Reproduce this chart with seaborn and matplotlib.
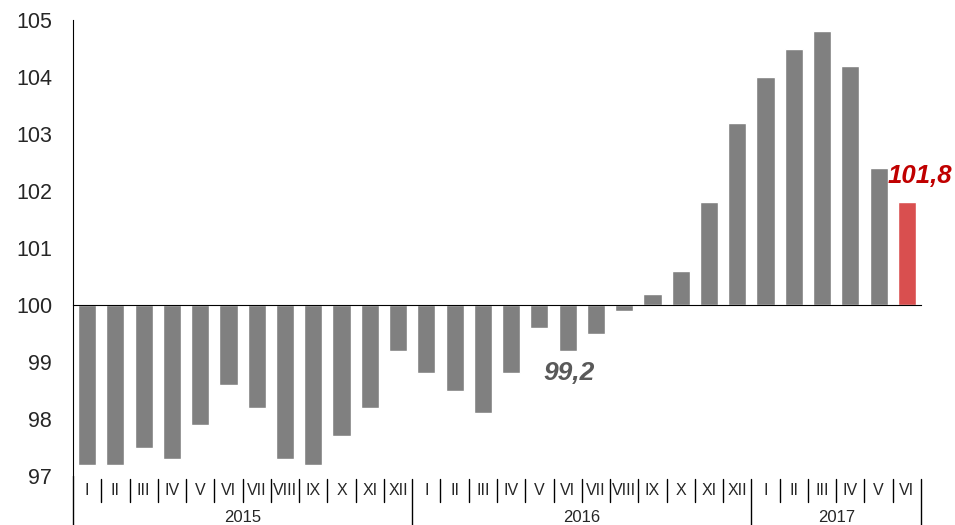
import pandas as pd
import matplotlib.pyplot as plt
import matplotlib.transforms as mtransforms
import seaborn as sns

# dane
meses = ["I", "II", "III", "IV", "V", "VI", "VII", "VIII", "IX", "X", "XI", "XII"]
anos = ["2015", "2016", "2017"]
n_meses = [12, 12, 6]
valores_2015 = [97.2, 97.2, 97.5, 97.3, 97.9, 98.6, 98.2, 97.3, 97.2, 97.7, 98.2, 99.2]
valores_2016 = [98.8, 98.5, 98.1, 98.8, 99.6, 99.2, 99.5, 99.9, 100.2, 100.6, 101.8, 103.2]
valores_2017 = [104.0, 104.5, 104.8, 104.2, 102.4, 101.8]
base = 100
y_ticks = [97, 98, 99, 100, 101, 102, 103, 104, 105]

valores = valores_2015 + valores_2016 + valores_2017
rotulos = meses + meses + meses[:6]
chaves = [f"{a}-{m}" for a, n in zip(anos, n_meses) for m in meses[:n]]
df = pd.DataFrame({"chave": chaves, "mes": rotulos,
                   "delta": [v - base for v in valores],
                   "grupo": ["ult" if i == len(valores) - 1 else "hist" for i in range(len(valores))]})

sns.set_style("white")
plt.rcParams["font.family"] = ["Liberation Sans", "DejaVu Sans"]

fig = plt.figure(figsize=(9.55, 5.25), dpi=100)
ax = fig.add_axes([73 / 955, 1 - 476 / 525, (921 - 73) / 955, (476 - 20) / 525])

sns.barplot(data=df, x="chave", y="delta", hue="grupo", order=chaves,
            palette={"hist": "#808080", "ult": "#d94f4f"}, dodge=False,
            legend=False, width=0.64, saturation=1, ax=ax)

ax.set_xlim(-0.5, len(valores) - 0.5)
ax.set_ylim(y_ticks[0] - base, y_ticks[-1] - base)
ax.set_yticks([t - base for t in y_ticks])
ax.set_yticklabels([str(t) for t in y_ticks], fontsize=15.5)
ax.set_xticks([i - 0.5 for i in range(len(valores) + 1)])
ax.set_xticklabels([])
ax.set_xlabel("")
ax.set_ylabel("")
ax.tick_params(axis="x", direction="out", length=4, width=1, color="black")
ax.tick_params(axis="y", direction="out", length=5, width=1, color="black", pad=10)

for s in ["top", "right"]:
    ax.spines[s].set_visible(False)
ax.spines["bottom"].set_position(("data", 0))
ax.spines["bottom"].set_color("black")
ax.spines["left"].set_color("black")

# rotulos dos meses e anos
tr = mtransforms.blended_transform_factory(ax.transData, ax.transAxes)
for i, m in enumerate(df["mes"]):
    ax.text(i, -0.031, m, transform=tr, ha="center", va="center", fontsize=11.5)
fronteiras = []
pos = 0
for a, n in zip(anos, n_meses):
    ax.text(pos + n / 2 - 0.5, -0.09, a, transform=tr, ha="center", va="center", fontsize=12)
    pos += n
    fronteiras.append(pos - 0.5)
ax.plot([-0.5, -0.5], [0, -0.12], color="black", lw=1, transform=tr, clip_on=False)
for b in range(1, len(valores) + 1):
    x = b - 0.5
    y0 = -0.12 if x in fronteiras else -0.057
    ax.plot([x, x], [-0.007, y0], color="black", lw=1, transform=tr, clip_on=False)

# destaques
ax.text(17.05, 98.8 - base, "99,2", ha="center", va="center", fontsize=19,
        fontweight="bold", fontstyle="italic", color="#595959")
ax.text(29.45, 102.26 - base, "101,8", ha="center", va="center", fontsize=18.5,
        fontweight="bold", fontstyle="italic", color="#c00000", clip_on=False)

fig.savefig("out.png", dpi=100)
plt.close()
